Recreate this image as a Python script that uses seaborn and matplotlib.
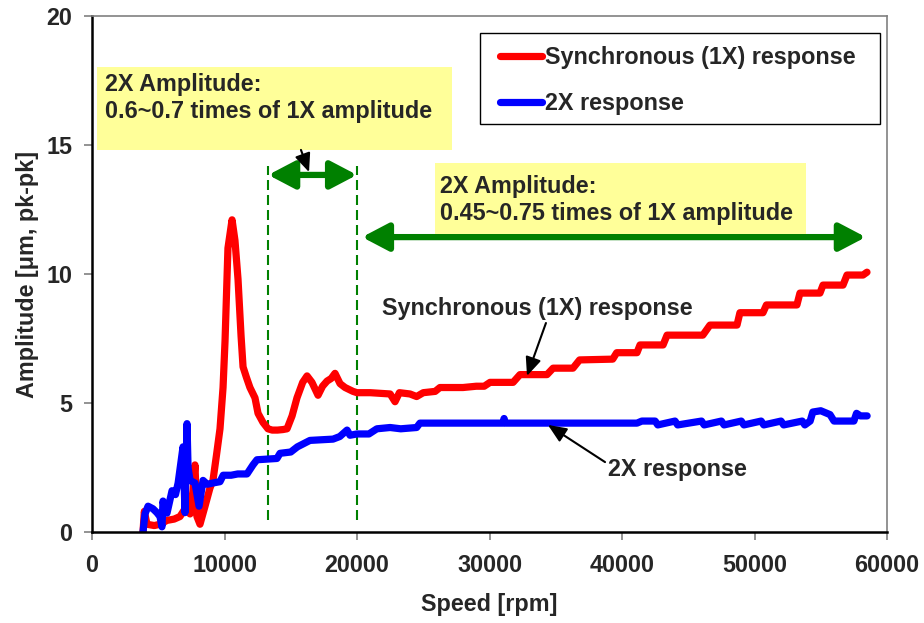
import numpy as np
import pandas as pd
import matplotlib
matplotlib.use("Agg")
import matplotlib.pyplot as plt
import seaborn as sns
from matplotlib.patches import Rectangle
from matplotlib.lines import Line2D

# ---------------- data ----------------
label_1x = "Synchronous (1X) response"
label_2x = "2X response"

speed_1x = [3850, 3950, 4150, 4700, 5130, 5660, 6200, 6640, 7020, 7400, 7620, 7770,
            7920, 8150, 8530, 8900, 9130, 9400, 9660, 9890, 10040, 10260, 10570,
            10790, 11020, 11250, 11400, 11650, 11920, 12300, 12530, 12900, 13280,
            13600, 14000, 14400, 14720, 15100, 15470, 15900, 16230, 16600, 17060,
            17400, 17740, 18050, 18340, 18720, 19100, 19700, 20000, 21000, 22500,
            22870, 23200, 24000, 24500, 25000, 25900, 26260, 28000, 29000, 29600,
            30040, 31780, 32300, 34340, 34800, 36300, 36800, 39300, 39600, 41130,
            41360, 43100, 43400, 46100, 46640, 48680, 48900, 50640, 50900, 53200,
            53430, 54940, 55170, 56680, 56980, 58190, 58490]
amp_1x = [0.0, 0.8, 0.3, 0.25, 0.3, 0.45, 0.5, 0.6, 0.9, 0.7, 1.6, 2.6,
          0.6, 0.3, 1.0, 1.7, 2.0, 3.0, 4.0, 5.6, 7.4, 11.0, 12.1,
          11.3, 9.8, 7.6, 6.4, 6.0, 5.6, 5.2, 4.6, 4.25, 4.0,
          3.95, 3.95, 3.97, 4.0, 4.5, 5.2, 5.8, 6.05, 5.8, 5.3,
          5.65, 5.85, 5.95, 6.15, 5.75, 5.6, 5.45, 5.4, 5.4, 5.35,
          5.05, 5.4, 5.35, 5.25, 5.4, 5.45, 5.6, 5.6, 5.65, 5.65,
          5.8, 5.8, 6.1, 6.1, 6.35, 6.35, 6.67, 6.7, 6.95, 6.95,
          7.25, 7.25, 7.63, 7.63, 8.02, 8.02, 8.5, 8.5, 8.8, 8.8,
          9.26, 9.26, 9.57, 9.57, 9.96, 9.96, 10.07]

speed_2x = [3850, 4000, 4230, 4600, 4900, 5130, 5280, 5360, 5500, 5660, 6040, 6300,
            6500, 6870, 7020, 7170, 7250, 7400, 7770, 8080, 8380, 8700, 9130, 9660,
            9900, 10500, 11000, 11700, 12150, 12450, 13960, 14190, 15000, 15500,
            16450, 18190, 18700, 19250, 19470, 20000, 20900, 21500, 22500, 23300,
            24500, 24750, 31000, 31100, 31200, 41130, 41500, 42500, 42700, 44000,
            44200, 46000, 46200, 47500, 47700, 49000, 49200, 50500, 50700, 52000,
            52200, 53600, 53800, 54200, 54400, 55000, 55700, 56000, 57500, 57700,
            58000, 58500]
amp_2x = [0.0, 0.7, 1.0, 0.9, 0.75, 0.6, 0.2, 1.2, 0.8, 0.73, 1.6, 1.45,
          1.9, 3.3, 0.75, 4.2, 2.5, 2.0, 1.9, 1.0, 2.0, 1.85, 1.9, 1.95,
          2.2, 2.2, 2.25, 2.25, 2.6, 2.8, 2.85, 3.05, 3.1, 3.3,
          3.55, 3.6, 3.7, 3.95, 3.75, 3.8, 3.8, 4.0, 4.05, 4.0,
          4.05, 4.22, 4.22, 4.4, 4.22, 4.22, 4.3, 4.3, 4.15, 4.3,
          4.15, 4.3, 4.15, 4.3, 4.15, 4.3, 4.15, 4.3, 4.15, 4.3,
          4.15, 4.3, 4.15, 4.3, 4.65, 4.7, 4.55, 4.3, 4.3, 4.6,
          4.5, 4.5]

x_ticks = [0, 10000, 20000, 30000, 40000, 50000, 60000]
y_ticks = [0, 5, 10, 15, 20]

# ---------------- styling ----------------
sns.set_style("white")
plt.rcParams["font.family"] = ["Liberation Sans", "DejaVu Sans"]
plt.rcParams["font.weight"] = "bold"
FS = 16.8
LW = 5.2
RED, BLUE, GREEN, YELLOW = "#FF0000", "#0000FF", "#008000", "#FFFF99"

fig = plt.figure(figsize=(9.24, 6.23), dpi=100)
fig.patch.set_facecolor("white")
ax = fig.add_axes([92 / 924, 1 - 532 / 623, (887 - 92) / 924, (532 - 16) / 623])

df = pd.concat([
    pd.DataFrame({"Speed": speed_1x, "Amplitude": amp_1x, "Series": label_1x}),
    pd.DataFrame({"Speed": speed_2x, "Amplitude": amp_2x, "Series": label_2x}),
], ignore_index=True)

sns.lineplot(data=df, x="Speed", y="Amplitude", hue="Series",
             palette={label_1x: RED, label_2x: BLUE}, sort=False, estimator=None,
             linewidth=LW, legend=False, ax=ax, zorder=2)
for ln in ax.lines:
    ln.set_solid_capstyle("round")
    ln.set_solid_joinstyle("round")

ax.set_xlim(0, 60000)
ax.set_ylim(0, 20)
ax.set_xticks(x_ticks)
ax.set_yticks(y_ticks)
ax.set_xticklabels([str(v) for v in x_ticks])
ax.set_yticklabels([str(v) for v in y_ticks])
ax.tick_params(axis="both", which="both", direction="out", length=6, width=1.2,
               color="#808080", labelsize=FS, left=True, bottom=True,
               top=False, right=False)
ax.tick_params(axis="x", pad=10)
ax.tick_params(axis="y", pad=8)
for t in ax.get_xticklabels() + ax.get_yticklabels():
    t.set_fontweight("bold")

for s in ["left", "bottom"]:
    ax.spines[s].set_color("black")
    ax.spines[s].set_linewidth(1.8)
for s in ["top", "right"]:
    ax.spines[s].set_color("#808080")
    ax.spines[s].set_linewidth(1.2)
    ax.spines[s].set_visible(True)

ax.set_xlabel("Speed [rpm]", fontsize=FS, fontweight="bold")
ax.set_ylabel("Amplitude [\u03bcm, pk-pk]", fontsize=FS, fontweight="bold")
ax.xaxis.set_label_coords(0.5, -0.118)
ax.yaxis.set_label_coords(-0.067, 0.5)

# ---------------- annotations ----------------
band_lo, band_hi, band_end = 13300, 20000, 58400
for xv in (band_lo, band_hi):
    ax.plot([xv, xv], [0.45, 14.2], color=GREEN, lw=1.5, ls=(0, (4.8, 2.4)), zorder=1)

green_arrow = dict(arrowstyle="<|-|>,head_length=0.8,head_width=0.42",
                   color=GREEN, lw=4.5, shrinkA=0, shrinkB=0, mutation_scale=20)
ax.annotate("", xy=(band_hi, 13.84), xytext=(band_lo, 13.84),
            arrowprops=green_arrow, zorder=3)
ax.annotate("", xy=(band_end, 11.43), xytext=(band_hi + 380, 11.43),
            arrowprops=green_arrow, zorder=3)

# yellow boxes
ax.add_patch(Rectangle((377, 14.81), 27170 - 377, 18.02 - 14.81, facecolor=YELLOW,
                       edgecolor="none", zorder=4, clip_on=False))
ax.text(981, 17.09, "2X Amplitude:", fontsize=FS, fontweight="bold", va="baseline", zorder=5)
ax.text(981, 16.05, "0.6~0.7 times of 1X amplitude", fontsize=FS, fontweight="bold",
        va="baseline", zorder=5)

ax.add_patch(Rectangle((25886, 11.55), 53886 - 25886, 14.30 - 11.55, facecolor=YELLOW,
                       edgecolor="none", zorder=4))
ax.text(26264, 13.14, "2X Amplitude:", fontsize=FS, fontweight="bold", va="baseline", zorder=5)
ax.text(26264, 12.09, "0.45~0.75 times of 1X amplitude", fontsize=FS, fontweight="bold",
        va="baseline", zorder=5)

# black pointer arrows
black_arrow = dict(arrowstyle="-|>,head_length=0.7,head_width=0.3", color="black",
                   lw=1.5, shrinkA=0, shrinkB=0, mutation_scale=16)
ax.annotate("", xy=(16380, 13.95), xytext=(15770, 14.81), arrowprops=black_arrow, zorder=6)
ax.text(21890, 8.41, "Synchronous (1X) response", fontsize=FS, fontweight="bold",
        va="baseline", zorder=5)
ax.annotate("", xy=(32830, 6.05), xytext=(34260, 8.1), arrowprops=black_arrow, zorder=6)
ax.text(38940, 2.17, "2X response", fontsize=FS, fontweight="bold", va="baseline", zorder=5)
ax.annotate("", xy=(34410, 4.15), xytext=(38720, 2.71), arrowprops=black_arrow, zorder=6)

# legend with a square frame
ax.add_patch(Rectangle((0.488, 0.791), 0.991 - 0.488, 0.967 - 0.791,
                       transform=ax.transAxes, facecolor="white", edgecolor="black",
                       lw=1.0, zorder=7))
handles = [Line2D([], [], color=RED, lw=LW, solid_capstyle="round"),
           Line2D([], [], color=BLUE, lw=LW, solid_capstyle="round")]
leg = ax.legend(handles, [label_1x, label_2x], loc="upper left",
                bbox_to_anchor=(0.513, 0.942), frameon=False,
                prop={"size": FS, "weight": "bold"}, handlelength=1.8,
                handletextpad=0.15, labelspacing=0.99, borderpad=0,
                borderaxespad=0)
leg.set_zorder(8)

fig.savefig("out.png", dpi=100, facecolor="white")
